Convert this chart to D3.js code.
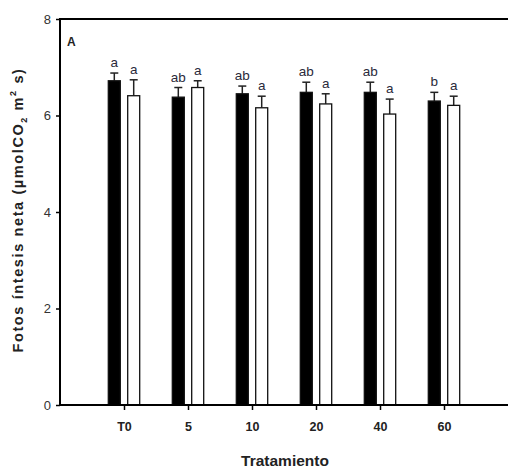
<!DOCTYPE html>
<html>
<head>
<meta charset="utf-8">
<script src="https://cdn.jsdelivr.net/npm/d3@7"></script>
<style>
  body { margin: 0; background: #fff; }
  svg { display: block; }
</style>
</head>
<body>
<svg id="chart" width="508" height="468"></svg>
<script>
const categories = ["T0", "5", "10", "20", "40", "60"];
const blackValues = [6.72, 6.38, 6.45, 6.48, 6.48, 6.30];
const blackErrors = [0.16, 0.20, 0.16, 0.21, 0.21, 0.18];
const whiteValues = [6.41, 6.58, 6.16, 6.24, 6.03, 6.21];
const whiteErrors = [0.33, 0.14, 0.24, 0.21, 0.31, 0.19];
const blackLetters = ["a", "ab", "ab", "ab", "ab", "b"];
const whiteLetters = ["a", "a", "a", "a", "a", "a"];
const yTicks = [0, 2, 4, 6, 8];

const svg = d3.select("#chart");
const mLeft = 60, mRight = 508, mTop = 19, mBottom = 405;

const x = d3.scalePoint().domain(categories).range([mLeft, mRight]).padding(1);
const y = d3.scaleLinear().domain([0, 8]).range([mBottom, mTop]);

const barW = 12, off = 9.7;
const series = [
  { vals: blackValues, errs: blackErrors, letters: blackLetters, dx: -off, fill: "#000" },
  { vals: whiteValues, errs: whiteErrors, letters: whiteLetters, dx: off, fill: "#fff" }
];

series.forEach(s => {
  const g = svg.append("g");
  categories.forEach((c, i) => {
    const cx = x(c) + s.dx;
    const v = s.vals[i], e = s.errs[i];
    g.append("line").attr("x1", cx).attr("x2", cx)
      .attr("y1", y(v)).attr("y2", y(v + e))
      .attr("stroke", "#222").attr("stroke-width", 1.5);
    g.append("line").attr("x1", cx - 4).attr("x2", cx + 4)
      .attr("y1", y(v + e)).attr("y2", y(v + e))
      .attr("stroke", "#222").attr("stroke-width", 1.5);
    g.append("rect").attr("x", cx - barW / 2).attr("y", y(v))
      .attr("width", barW).attr("height", y(0) - y(v))
      .attr("fill", s.fill).attr("stroke", "#111").attr("stroke-width", 1.3);
    g.append("text").attr("x", cx).attr("y", y(v + e) - 6)
      .attr("text-anchor", "middle")
      .attr("font-family", "'Liberation Sans Narrow', 'Liberation Sans', Arial, sans-serif")
      .attr("font-size", 13.5).attr("fill", "#2a2a3a")
      .text(s.letters[i]);
  });
});

const yAxis = d3.axisLeft(y).tickValues(yTicks).tickSize(4).tickFormat(d3.format("d"));
const ya = svg.append("g").attr("transform", `translate(${mLeft},0)`).call(yAxis);
ya.select(".domain").attr("stroke", "#000").attr("stroke-width", 2)
  .attr("d", `M0,${mTop}V${mBottom}`);
ya.selectAll(".tick line").attr("stroke", "#000").attr("stroke-width", 1.5);
ya.selectAll(".tick text").attr("font-family", "'Liberation Sans', Arial, sans-serif")
  .attr("font-size", 13).attr("fill", "#333").attr("x", -9);

const xAxis = d3.axisBottom(x).tickSize(5).tickPadding(12);
const xa = svg.append("g").attr("transform", `translate(0,${mBottom})`).call(xAxis);
xa.select(".domain").attr("stroke", "#000").attr("stroke-width", 2)
  .attr("d", `M${mLeft},0H${mRight}`);
xa.selectAll(".tick line").attr("stroke", "#000").attr("stroke-width", 1.5);
xa.selectAll(".tick text").attr("font-family", "'Liberation Sans Narrow', 'Liberation Sans', Arial, sans-serif")
  .attr("font-size", 12.5).attr("font-weight", "bold").attr("fill", "#222");

svg.append("line").attr("x1", mLeft - 1).attr("x2", mRight).attr("y1", mTop).attr("y2", mTop)
  .attr("stroke", "#000").attr("stroke-width", 2);

svg.append("text").attr("x", 67).attr("y", 46)
  .attr("font-family", "'Liberation Sans', Arial, sans-serif")
  .attr("font-size", 12).attr("font-weight", "bold").attr("fill", "#222").text("A");

svg.append("text").attr("x", 285).attr("y", 466).attr("text-anchor", "middle")
  .attr("font-family", "'Liberation Sans Narrow', 'Liberation Sans', Arial, sans-serif")
  .attr("font-size", 15.5).attr("font-weight", "bold").attr("fill", "#222").text("Tratamiento");

const yt = svg.append("text")
  .attr("transform", `translate(23,210) rotate(-90)`)
  .attr("text-anchor", "middle")
  .attr("font-family", "'Liberation Sans', Arial, sans-serif")
  .attr("font-size", 14.5).attr("font-weight", "bold").attr("fill", "#222");
yt.append("tspan").text("Fotos íntesis neta (µmolCO");
yt.append("tspan").attr("font-size", 9).attr("dy", 4).text("2");
yt.append("tspan").attr("dy", -4).text(" m");
yt.append("tspan").attr("font-size", 9).attr("dy", -7).text("2");
yt.append("tspan").attr("dy", 7).text(" s)");
const len = yt.node().getComputedTextLength();
const nChars = yt.text().length;
yt.attr("letter-spacing", Math.max(0, (285 - len) / nChars));
</script>
</body>
</html>
